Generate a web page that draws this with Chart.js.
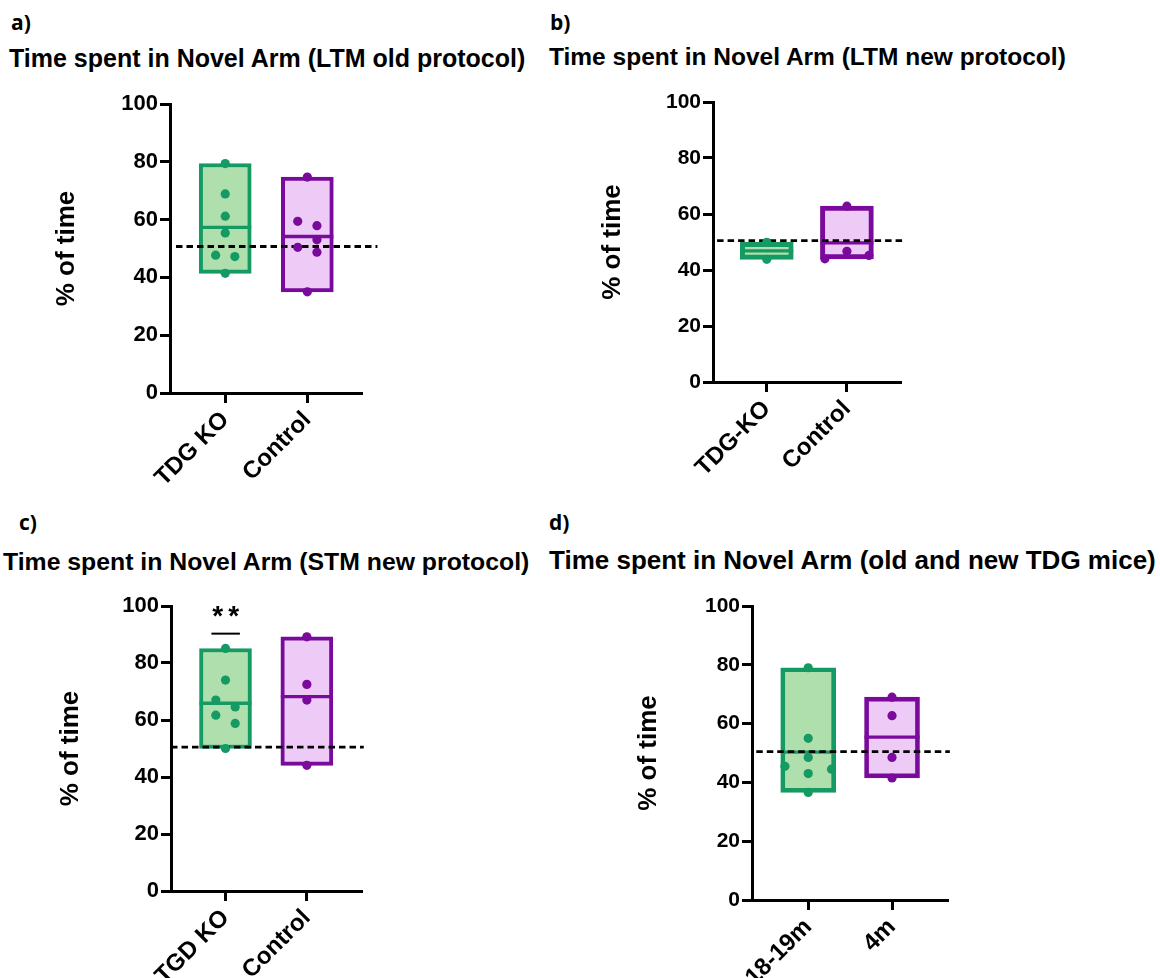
<!DOCTYPE html>
<html>
<head>
<meta charset="utf-8">
<script src="https://cdn.jsdelivr.net/npm/chart.js@4.4.0/dist/chart.umd.min.js"></script>
<style>
body{margin:0;background:#fff;width:1160px;height:978px;overflow:hidden;position:relative;font-family:"Liberation Sans",Arial,sans-serif;color:#000}
.lbl{position:absolute;font-family:"Open Sans",sans-serif;font-weight:700;font-size:21px;line-height:21px}
.ttl{position:absolute;font-weight:700;font-size:25px;line-height:25px;white-space:nowrap}
canvas{position:absolute}
</style>
</head>
<body>
<div class="lbl" style="left:11px;top:12px">a)</div>
<div class="ttl" style="left:9px;top:46px">Time spent in Novel Arm (LTM old protocol)</div>
<div class="lbl" style="left:550px;top:12px">b)</div>
<div class="ttl" style="left:549px;top:44px;font-size:24.5px">Time spent in Novel Arm (LTM new protocol)</div>
<div class="lbl" style="left:19px;top:512px">c)</div>
<div class="ttl" style="left:3px;top:549px;font-size:24.8px">Time spent in Novel Arm (STM new protocol)</div>
<div class="lbl" style="left:549px;top:512px">d)</div>
<div class="ttl" style="left:549px;top:548px;font-size:26px">Time spent in Novel Arm (old and new TDG mice)</div>

<canvas id="chA" width="367" height="401" style="left:25px;top:84px"></canvas>
<canvas id="chB" width="363" height="392" style="left:568px;top:82px"></canvas>
<canvas id="chC" width="366" height="397" style="left:26px;top:586px"></canvas>
<canvas id="chD" width="371" height="406" style="left:607px;top:586px"></canvas>

<script>
// panel a
var labelsA = ['TDG KO', 'Control'];
var koA = [79.4, 68.9, 61.2, 55.4, 47.7, 47.2, 41.4];
var jitKoA = [0, 0, 0, 0, -1, 1, 0];
var ctrlA = [74.7, 59.4, 57.9, 53.0, 50.4, 48.7, 35.0];
var jitCtrlA = [0, -1, 1, 1, -1, 1, 0];
var refA = 50.7;

// panel b
var labelsB = ['TDG-KO', 'Control'];
var koB = [49.9, 43.8];
var jitKoB = [0, 0];
var ctrlB = [62.8, 46.7, 45.2, 44.0];
var jitCtrlB = [0, 0, 1, -1];
var refB = 50.5;

// panel c
var labelsC = ['TGD KO', 'Control'];
var koC = [85.1, 74.0, 67.0, 64.6, 61.7, 58.8, 50.0];
var jitKoC = [0, 0, -1, 1, -1, 1, 0];
var ctrlC = [89.2, 72.5, 67.0, 44.1];
var jitCtrlC = [0, 0, 0, 0];
var refC = 50.5;

// panel d
var labelsD = ['18-19m', '4m'];
var oldD = [79.0, 55.0, 48.5, 45.5, 44.5, 43.0, 36.6];
var jitOldD = [0, 0, 0, -1, 1, 0, 0];
var youngD = [69.0, 62.7, 48.5, 41.5];
var jitYoungD = [0, 0, 0, 0];
var refD = 50.5;

var green = '#159a63', greenFill = '#afdfad';
var purple = '#790a9c', purpleFill = '#eecbf6';

function mean(a){ return a.reduce(function(s,v){return s+v;},0)/a.length; }

// line at the mean of each group, drawn right after the boxes
var meanLinePlugin = {
	id: 'meanLines',
	afterDatasetDraw: function(chart, args){
		if (args.index !== 2) return;
		var ctx = chart.ctx, y = chart.scales.y;
		var groups = chart.options.plugins.meanLines.groups;
		args.meta.data.forEach(function(bar, i){
			var py = y.getPixelForValue(mean(groups[i]));
			ctx.save();
			ctx.strokeStyle = bar.options.borderColor;
			ctx.lineWidth = 3.3;
			ctx.beginPath();
			ctx.moveTo(bar.x - bar.width/2, py);
			ctx.lineTo(bar.x + bar.width/2, py);
			ctx.stroke();
			ctx.restore();
		});
	}
};

// significance mark (panel c)
var sigPlugin = {
	id: 'sig',
	afterDraw: function(chart){
		var o = chart.options.plugins.sig;
		if (!o || !o.text) return;
		var ctx = chart.ctx, x = chart.scales.x, y = chart.scales.y;
		ctx.save();
		ctx.strokeStyle = '#000';
		ctx.lineWidth = 2;
		ctx.beginPath();
		ctx.moveTo(x.getPixelForValue(o.from), y.getPixelForValue(o.lineAt));
		ctx.lineTo(x.getPixelForValue(o.to), y.getPixelForValue(o.lineAt));
		ctx.stroke();
		ctx.fillStyle = '#000';
		ctx.font = 'bold 28px "Liberation Sans", Arial';
		ctx.textAlign = 'center';
		ctx.textBaseline = 'middle';
		var cx = x.getPixelForValue((o.from+o.to)/2), cy = y.getPixelForValue(o.textAt);
		var n = o.text.length;
		for (var k = 0; k < n; k++) {
			ctx.fillText(o.text[k], cx + (k - (n-1)/2)*16, cy);
		}
		ctx.restore();
	}
};

function makeChart(id, labels, groups, jits, ref, opt){
	var pts = [], ptCol = [];
	groups.forEach(function(g, i){
		g.forEach(function(v, j){
			pts.push({x: i + jits[i][j]*opt.jit, y: v});
			ptCol.push(i == 0 ? green : purple);
		});
	});
	var tickFont = {family: '"Liberation Sans", Arial', size: opt.tickSize, weight: 'bold'};
	return new Chart(document.getElementById(id), {
		type: 'bar',
		data: {
			datasets: [{
				type: 'scatter',
				data: pts,
				pointRadius: 4.6,
				pointBorderWidth: 0,
				pointBackgroundColor: ptCol,
				order: 0
			}, {
				type: 'line',
				data: [{x: opt.refFrom, y: ref}, {x: opt.refTo, y: ref}],
				borderColor: '#000',
				borderWidth: 2.8,
				borderDash: [6.5, 4],
				pointRadius: 0,
				clip: false,
				order: 1
			}, {
				type: 'bar',
				data: groups.map(function(g, i){ return {x: i, y: [Math.min.apply(null, g), Math.max.apply(null, g)]}; }),
				backgroundColor: [greenFill, purpleFill],
				borderColor: [green, purple],
				borderWidth: opt.boxLine,
				borderSkipped: false,
				barThickness: opt.barW,
				order: 2
			}]
		},
		plugins: [meanLinePlugin, sigPlugin],
		options: {
			responsive: false,
			animation: false,
			layout: {padding: {top: 20, right: 30, left: 0, bottom: 0}},
			plugins: {
				legend: {display: false},
				tooltip: {enabled: false},
				meanLines: {groups: groups},
				sig: opt.sig || {}
			},
			scales: {
				x: {
					type: 'linear',
					offset: false,
					min: opt.xMin, max: opt.xMax,
					afterBuildTicks: function(s){ s.ticks = labels.map(function(l, i){ return {value: i}; }); },
					afterFit: function(s){ s.height = opt.xH; },
					ticks: {
						callback: function(v){ return labels[v]; },
						minRotation: 45, maxRotation: 45, autoSkip: false,
						color: '#000', padding: 3,
						font: {family: '"Liberation Sans", Arial', size: 24, weight: 'bold'}
					},
					grid: {offset: false, drawOnChartArea: false, drawTicks: true, tickLength: 10, tickWidth: 3, color: '#000'},
					border: {display: true, width: 3, color: '#000'}
				},
				y: {
					min: 0, max: 100,
					afterFit: function(s){ s.width = 145; },
					ticks: {stepSize: 20, color: '#000', padding: 2, font: tickFont},
					grid: {drawOnChartArea: false, drawTicks: true, tickLength: 10, tickWidth: 3, color: '#000'},
					border: {display: true, width: 3, color: '#000'},
					title: {
						display: true, text: '% of time', color: '#000',
						font: {family: '"Liberation Sans", Arial', size: 26, weight: 'bold'},
						padding: {top: opt.titlePad, bottom: 0}
					}
				}
			}
		}
	});
}

makeChart('chA', labelsA, [koA, ctrlA], [jitKoA, jitCtrlA], refA,
	{xMin: -0.673, xMax: 1.666, jit: 0.117, barW: 52, boxLine: 4, xH: 92, titlePad: 26, refFrom: -0.6, refTo: 1.854, tickSize: 22});
makeChart('chB', labelsB, [koB, ctrlB], [jitKoB, jitCtrlB], refB,
	{xMin: -0.671, xMax: 1.675, jit: 0.275, barW: 53, boxLine: 5, xH: 92, titlePad: 29, refFrom: -0.62, refTo: 1.70, tickSize: 21});
makeChart('chC', labelsC, [koC, ctrlC], [jitKoC, jitCtrlC], refC,
	{xMin: -0.67, xMax: 1.678, jit: 0.119, barW: 52, boxLine: 4, xH: 92, titlePad: 29, refFrom: -0.67, refTo: 1.70, tickSize: 22,
	 sig: {text: '**', from: -0.173, to: 0.177, lineAt: 90.3, textAt: 96.0}});
makeChart('chD', labelsD, [oldD, youngD], [jitOldD, jitYoungD], refD,
	{xMin: -0.671, xMax: 1.668, jit: 0.278, barW: 55, boxLine: 4.7, xH: 92, titlePad: 26, refFrom: -0.62, refTo: 1.69, tickSize: 21});
</script>
</body>
</html>
